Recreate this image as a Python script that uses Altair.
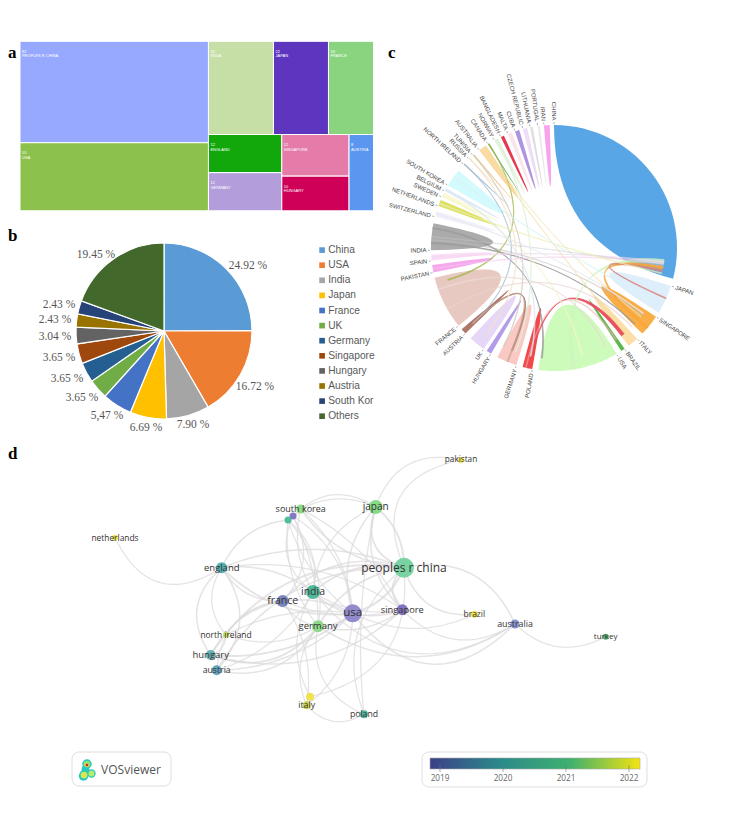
import math
import altair as alt
import pandas as pd

# ---- page geometry of the four panels (screen pixels) ----
PANEL_A = (8, 8, 380, 225)
PANEL_B = (8, 225, 380, 445)
PANEL_C = (380, 8, 739, 445)
PANEL_D = (8, 445, 739, 811)

# ---- a: treemap ----
tree_names = ["PEOPLES R CHINA", "USA", "INDIA", "JAPAN", "FRANCE", "ENGLAND", "GERMANY", "SINGAPORE", "HUNGARY", "AUSTRIA"]
tree_values = [82, 55, 26, 22, 18, 12, 12, 12, 10, 8]
tree_colors = ["#97A8FF", "#8CC14C", "#C5DFA6", "#5E35BE", "#8AD47F", "#12A70B", "#B39DDB", "#E57BA8", "#CE0058", "#5B96F0"]
TREE_BOX = (20, 41.3, 373.5, 210.8)

# ---- b: pie ----
pie_names = ["China", "USA", "India", "Japan", "France", "UK", "Germany", "Singapore", "Hungary", "Austria", "South Korea", "Others"]
pie_values = [24.92, 16.72, 7.90, 6.69, 5.47, 3.65, 3.65, 3.65, 3.04, 2.43, 2.43, 19.45]
pie_labels = ["24.92 %", "16.72 %", "7.90 %", "6.69 %", "5,47 %", "3.65 %", "3.65 %", "3.65 %", "3.04 %", "2.43 %", "2.43 %", "19.45 %"]
pie_label_x = [248, 255, 193, 146, 107, 82, 67, 59, 55, 55, 59, 96]
pie_label_y = [266, 387, 425, 428, 416, 398, 379, 358, 337, 320, 305, 255]
pie_colors = ["#5B9BD5", "#ED7D31", "#A5A5A5", "#FFC000", "#4472C4", "#70AD47", "#255E91", "#9E480E", "#636363", "#997300", "#264478", "#43682B"]

# ---- c: chord diagram, sector start and end angles in degrees clockwise from the top ----
chord_names = ["CHINA", "JAPAN", "SINGAPORE", "ITALY", "BRAZIL", "USA", "POLAND", "GERMANY", "HUNGARY", "UK", "AUSTRIA", "FRANCE",
               "PAKISTAN", "SPAIN", "INDIA", "SWITZERLAND", "NETHERLANDS", "SWEDEN", "BELGIUM", "SOUTH KOREA", "NORTH IRELAND",
               "RUSSIA", "TUNISIA", "AUSTRALIA", "CANADA", "NORWAY", "BANGLADESH", "MALTA", "CUBA", "CZECH REPUBLIC", "LITHUANIA", "PORTUGAL", "IRAN"]
chord_start = [0, 108, 124, 137.5, 145, 149.4, 190.2, 197.8, 210.8, 214.9, 226, 230.8, 258.5, 264, 269, 284.7, 290, 294.4, 297.5, 300.6, 312.7,
               316.3, 318.8, 322.6, 327.5, 331, 334.4, 338, 341.5, 345.3, 348.8, 352.4, 355.3]
chord_end = [104.5, 121.7, 134.1, 142.7, 146.8, 187.3, 194.8, 207.4, 213.2, 222.7, 228.1, 256, 262, 267, 281.6, 287.5, 293, 296.8, 299, 309, 313.4,
             317, 319.6, 326.5, 328.1, 333, 336, 340, 343.6, 347.4, 350, 353.4, 358]
chord_colors = ["#58A6E6", "#DFEEFB", "#F9AE45", "#FCDFA8", "#5DB84A", "#CDFBBB", "#F44848", "#FBC9C4", "#B39DEB", "#E6D6F7", "#B0776B", "#E8C9C2",
                "#F6A8EC", "#FBDFF6", "#ABABAB", "#F1F1FA", "#DDE060", "#FAFAD8", "#DDEAF5", "#D3FAFD", "#A8C0D8",
                "#F7E7CE", "#F5CE9E", "#FCD9A0", "#62B35C", "#E5F5E0", "#E53950", "#FBE3EA", "#AE94E0", "#EDDDF6", "#DEDEDE", "#EAEAEA", "#F8A4EC"]
# links: source angles, target angles, colour, opacity
link_from_a = [272, 273.5, 279, 192, 193, 228, 328, 313, 318.9, 324, 325, 170, 130, 114, 265, 260, 240, 275, 202, 250, 295, 291, 305, 332, 286, 316.5, 298]
link_from_b = [272.6, 274, 279.6, 192.4, 193.4, 228.5, 328.2, 313.2, 319.1, 324.4, 325.4, 171.5, 131, 114.4, 266, 260.4, 240.6, 275.4, 202.5, 250.5, 295.4, 291.4, 305.5, 332.4, 286.4, 316.8, 298.4]
link_to_a = [133, 127, 186, 140.5, 145.5, 202, 253, 227, 207, 140, 128, 96, 99.5, 101.5, 97, 98, 135, 99, 227, 152, 165, 103, 118, 200, 126, 218, 192]
link_to_b = [133.4, 127.4, 186.5, 142.5, 146.3, 202.6, 253.6, 227.3, 207.3, 140.5, 128.5, 98.5, 101, 102.3, 97.6, 98.5, 135.5, 99.4, 227.5, 152.5, 165.4, 103.4, 118.5, 200.4, 126.4, 218.3, 192.4]
link_colors = ["#9E9E9E", "#BDBDBD", "#9E9E9E", "#E84A5A", "#E9B5B0", "#A9705F", "#A3B84C", "#A8C0D0", "#C9C9B8", "#F5DFA0", "#F0E3B0",
               "#CFF5C0", "#F9A63C", "#D98880", "#F3D9F0", "#F3C6EE", "#E8D3CE", "#C4C4C4", "#C5A59A",
               "#EBDAD6", "#F5F5C8", "#EDEFB0", "#D8F5F8", "#DDF2D8", "#E9E9F5", "#F3E4CC", "#DCE8F2"]
link_alpha = [0.95, 0.6, 0.95, 0.95, 0.6, 0.95, 0.85, 0.85, 0.8, 0.8, 0.7, 0.8, 0.95, 0.95, 0.7, 0.6, 0.7, 0.5, 0.8, 0.8, 0.9, 0.8, 0.9, 0.9, 0.9, 0.9, 0.9]
CHORD_CX, CHORD_CY, CHORD_R = 554, 248, 123

# ---- d: network ----
node_names = ["netherlands", "south korea", "", "", "japan", "peoples r china", "england", "india", "france", "usa", "germany", "singapore",
              "north ireland", "hungary", "austria", "", "italy", "poland", "pakistan", "brazil", "australia", "turkey"]
node_keys = ["ne", "sk", "x1", "x2", "ja", "ch", "en", "in", "fr", "us", "ge", "si", "ni", "hu", "au", "x3", "it", "po", "pk", "br", "as", "tu"]
node_x = [115, 300.7, 293, 288, 375.7, 404, 221.7, 313, 282.7, 352.7, 318, 402.3, 226, 210.7, 216.7, 310, 306.7, 364, 461, 474.3, 515, 605.7]
node_y = [536.7, 508, 515, 519, 506, 566.7, 566.7, 591, 600, 612.3, 625.3, 608.7, 633.7, 654, 669.3, 695.7, 704.3, 713.3, 459, 613.3, 623, 635.7]
node_r = [3, 4.5, 3.5, 3.5, 7, 10, 5.5, 7, 6, 9, 6, 5.5, 3, 5, 5, 4, 4, 4, 3, 3.5, 4.5, 3]
node_colors = ["#EFE23E", "#86D97C", "#7B6CC0", "#44B79A", "#7DD87D", "#6FCF9A", "#47A8A8", "#42B392", "#6C7CB8", "#8A82C8", "#84D680", "#7A68BC",
               "#B8DC50", "#5BAAB0", "#5A9CB8", "#F0E040", "#C8D040", "#44B398", "#F0E442", "#EDE040", "#7E8CD0", "#3FA860"]
node_font = [8.4, 9, 8, 8, 10, 12, 9.5, 10.5, 10.5, 11.5, 9.5, 9.3, 8.4, 9.5, 8.7, 8, 8.8, 8.7, 8.2, 8.5, 8.9, 8]
edge_a = ["ne", "pk", "ch", "ch", "ch", "ch", "ch", "as", "us", "si", "in", "sk", "sk", "x1", "x2", "en", "en", "en", "ni",
          "hu", "hu", "au", "au", "it", "it", "it", "it", "x3", "po", "po", "po", "ja", "ja", "ja", "ja", "en", "en", "en", "en",
          "fr", "fr", "fr", "fr", "in", "in", "ge", "ge", "ge", "us", "us", "us", "sk", "x1", "x1", "x2", "x2", "hu", "au", "en", "sk",
          "fr", "au", "in", "ge", "ni", "ni", "ni", "sk", "x2", "x1", "en", "hu", "fr", "x3", "sk", "x1"]
edge_b = ["en", "ja", "pk", "as", "br", "si", "ja", "tu", "as", "as", "as", "ja", "x2", "ja", "ge", "hu", "au", "ni", "hu",
          "us", "ge", "us", "ge", "ge", "us", "fr", "po", "ch", "ge", "ch", "ja", "si", "us", "in", "ch", "ch", "us", "in", "fr",
          "us", "ge", "au", "hu", "us", "ch", "us", "ch", "si", "ch", "si", "br", "us", "in", "fr", "ge", "in", "ch", "in", "x2", "ch",
          "ch", "ch", "si", "as", "us", "ge", "fr", "si", "us", "us", "si", "si", "si", "in", "in", "ge"]
edge_bend = [-0.28, -0.22, 0.3, 0.2, -0.2, -0.25, 0.25, -0.18, -0.28, -0.2, -0.22, 0.12, 0.1, 0.2, -0.1, -0.22, 0.2, -0.18, 0.18,
             -0.1, -0.18, -0.1, -0.18, 0.15, -0.12, -0.1, -0.2, -0.22, 0.2, 0.18, 0.04, -0.15, -0.14, -0.15, 0.12, 0.1, -0.12, 0.1, -0.15,
             0.08, -0.12, -0.2, -0.12, -0.08, 0.12, -0.1, 0.12, -0.12, -0.12, -0.08, -0.12, 0.1, -0.2, 0.18, 0.12, 0.15, 0.16, -0.1, 0.14, -0.12,
             0.16, 0.15, -0.1, -0.16, 0.08, -0.12, 0.12, 0.08, -0.08, 0.12, 0.1, -0.14, -0.08, 0.14, -0.1, 0.06]
edge_w = [1, 1, 1, 1.2, 1.2, 1.5, 1.5, 1, 1.2, 1, 1, 1, 1, 1, 1, 1.2, 1.2, 1, 1, 1.5, 1.5, 1.2, 1.2, 1, 1, 1, 1, 1, 1, 1, 1, 1.2, 1.2, 1, 1.5, 1.2, 1.5, 1.2, 1.2,
          1.2, 1, 1, 1, 1.5, 1.5, 1.5, 1.5, 1.2, 1.8, 1.2, 1, 1, 1, 1, 1, 1, 1.5, 1, 1.2, 1.2,
          1.2, 1.2, 1, 1.2, 1, 1, 1, 1, 1, 1, 1, 1.2, 1, 1, 1, 1]
bar_stops = ["#3C3F88", "#2B8A8A", "#3EB06F", "#F3E40F"]
bar_years = [2019, 2020, 2021, 2022]
bar_tick_x = [440, 503, 566, 629]


def frame(box):
    x0, y0, x1, y1 = box
    return (alt.Scale(domain=[x0, x1], range=[0, x1 - x0]),
            alt.Scale(domain=[y0, y1], range=[0, y1 - y0]),
            x1 - x0, y1 - y0)


def bez(p0, c, p1, n=24):
    out = []
    for i in range(n + 1):
        t = i / n
        out.append(((1 - t) ** 2 * p0[0] + 2 * t * (1 - t) * c[0] + t ** 2 * p1[0],
                    (1 - t) ** 2 * p0[1] + 2 * t * (1 - t) * c[1] + t ** 2 * p1[1]))
    return out


def polar(deg, r):
    a = math.radians(deg)
    return (CHORD_CX + r * math.sin(a), CHORD_CY - r * math.cos(a))


def letter(ch, x, y):
    return alt.Chart(pd.DataFrame({"t": [ch], "x": [x], "y": [y]}))


# ---------- panel a ----------
xa, ya, wa, ha = frame(PANEL_A)
bx0, by0, bx1, by1 = TREE_BOX
total = sum(tree_values)
W, H = bx1 - bx0, by1 - by0
left = tree_values[0] + tree_values[1]
xm = bx0 + W * left / total
rects = {}
ym = by0 + H * tree_values[0] / left
rects[0] = (bx0, xm, by0, ym)
rects[1] = (bx0, xm, ym, by1)
top = sum(tree_values[2:5])
rest = sum(tree_values[5:])
yr = by0 + H * top / (top + rest)
cx = xm
for i in (2, 3, 4):
    nx = cx + (bx1 - xm) * tree_values[i] / top
    rects[i] = (cx, nx, by0, yr)
    cx = nx
cx = xm
for pair in ((5, 6), (7, 8), (9,)):
    s = sum(tree_values[i] for i in pair)
    nx = cx + (bx1 - xm) * s / rest
    cy = yr
    for i in pair:
        ny = cy + (by1 - yr) * tree_values[i] / s
        rects[i] = (cx, nx, cy, ny)
        cy = ny
    cx = nx
tree_df = pd.DataFrame({
    "name": tree_names, "value": [str(v) for v in tree_values], "col": tree_colors,
    "x0": [rects[i][0] for i in range(10)], "x1": [rects[i][1] for i in range(10)],
    "y0": [rects[i][2] for i in range(10)], "y1": [rects[i][3] for i in range(10)]})
tree_df["tx"] = tree_df["x0"] + 2
tree_df["ty1"] = tree_df["y0"] + 10.5
tree_df["ty2"] = tree_df["y0"] + 15
rect_a = alt.Chart(tree_df).mark_rect(stroke="white", strokeWidth=1).encode(
    x=alt.X("x0:Q", scale=xa, axis=None), x2="x1:Q",
    y=alt.Y("y0:Q", scale=ya, axis=None), y2="y1:Q",
    fill=alt.Fill("col:N", scale=None))
t1_a = alt.Chart(tree_df).mark_text(align="left", baseline="middle", fontSize=4, color="white", font="Liberation Sans").encode(
    x=alt.X("tx:Q", scale=xa, axis=None), y=alt.Y("ty1:Q", scale=ya, axis=None), text="value:N")
t2_a = alt.Chart(tree_df).mark_text(align="left", baseline="middle", fontSize=4, color="white", font="Liberation Sans").encode(
    x=alt.X("tx:Q", scale=xa, axis=None), y=alt.Y("ty2:Q", scale=ya, axis=None), text="name:N")
let_style = dict(align="left", baseline="middle", fontSize=17, fontWeight="bold", font="Liberation Serif", color="black")
let_a = letter("a", 8, 53).mark_text(**let_style).encode(
    x=alt.X("x:Q", scale=xa, axis=None), y=alt.Y("y:Q", scale=ya, axis=None), text="t:N")
panel_a = alt.layer(rect_a, t1_a, t2_a, let_a).properties(width=wa, height=ha)

# ---------- panel b ----------
xb, yb, wb, hb = frame(PANEL_B)
pie_df = pd.DataFrame({"name": pie_names, "value": pie_values, "i": range(12), "label": pie_labels, "lx": pie_label_x, "ly": pie_label_y})
arc_b = alt.Chart(pie_df).mark_arc(outerRadius=88, stroke="white", strokeWidth=1.2).encode(
    theta=alt.Theta("value:Q", stack=True),
    order=alt.Order("i:Q"),
    color=alt.Color("name:N", sort=pie_names, scale=alt.Scale(domain=pie_names, range=pie_colors),
                    legend=alt.Legend(orient="none", legendX=309, legendY=237, title=None, symbolType="square", symbolSize=32,
                                      labelFont="Liberation Sans", labelFontSize=10.2, labelColor="#595959", rowPadding=4.1, symbolStrokeWidth=0,
                                      labelOffset=1,
                                      labelExpr="datum.label == 'South Korea' ? 'South Kor' : datum.label")),
    x=alt.value(164 - PANEL_B[0]), y=alt.value(331 - PANEL_B[1]))
txt_b = alt.Chart(pie_df).mark_text(font="Liberation Serif", fontSize=11.5, color="#555555").encode(
    x=alt.X("lx:Q", scale=xb, axis=None), y=alt.Y("ly:Q", scale=yb, axis=None), text="label:N")
let_b = letter("b", 8, 236).mark_text(**let_style).encode(
    x=alt.X("x:Q", scale=xb, axis=None), y=alt.Y("y:Q", scale=yb, axis=None), text="t:N")
panel_b = alt.layer(arc_b, txt_b, let_b).properties(width=wb, height=hb)

# ---------- panel c ----------
xc, yc, wc, hc = frame(PANEL_C)
rows = []
CTR = (CHORD_CX, CHORD_CY)
for k in range(len(chord_names)):
    a0, a1 = chord_start[k], chord_end[k]
    pts = [polar(a0 + (a1 - a0) * j / 30, CHORD_R) for j in range(31)]
    pts += bez(polar(a1, CHORD_R), CTR, polar(a0, CHORD_R))
    for i, (x, y) in enumerate(pts):
        rows.append({"id": f"s{k:02d}", "i": i, "x": x, "y": y, "col": chord_colors[k], "op": 1.0})
sector_df = pd.DataFrame(rows)
rows = []
for k in range(len(link_colors)):
    pts = bez(polar(link_from_a[k], CHORD_R), CTR, polar(link_to_a[k], CHORD_R * 0.9))
    pts += [polar(link_to_b[k], CHORD_R * 0.9)]
    pts += bez(polar(link_to_b[k], CHORD_R * 0.9), CTR, polar(link_from_b[k], CHORD_R))
    for i, (x, y) in enumerate(pts):
        rows.append({"id": f"t{k:02d}", "i": i, "x": x, "y": y, "col": link_colors[k], "op": link_alpha[k]})
link_df = pd.DataFrame(rows)
shape_c = alt.Chart(sector_df).mark_line(filled=True, strokeWidth=0).encode(
    x=alt.X("x:Q", scale=xc, axis=None), y=alt.Y("y:Q", scale=yc, axis=None),
    detail="id:N", order=alt.Order("i:Q"),
    fill=alt.Fill("col:N", scale=None))
link_c = alt.Chart(link_df).mark_line(filled=True, strokeWidth=0.7).encode(
    x=alt.X("x:Q", scale=xc, axis=None), y=alt.Y("y:Q", scale=yc, axis=None),
    detail="id:N", order=alt.Order("i:Q"),
    fill=alt.Fill("col:N", scale=None), stroke=alt.Stroke("col:N", scale=None), opacity=alt.Opacity("op:Q", scale=None))
lab_rows = []
for k, nm in enumerate(chord_names):
    th = chord_start[k]
    x, y = polar(th, CHORD_R + 4.5)
    x0, y0 = polar(th, CHORD_R + 1)
    x1, y1 = polar(th, CHORD_R + 3)
    right = 0 < th < 180
    lab_rows.append({"name": nm, "x": x, "y": y, "x0": x0, "y0": y0, "x1": x1, "y1": y1,
                     "ang": (th - 90) if right else (th - 270), "right": right})
lab_df = pd.DataFrame(lab_rows)
tick_c = alt.Chart(lab_df).mark_rule(color="#777777", strokeWidth=0.6).encode(
    x=alt.X("x0:Q", scale=xc, axis=None), x2="x1:Q",
    y=alt.Y("y0:Q", scale=yc, axis=None), y2="y1:Q")
lab_c_r = alt.Chart(lab_df[lab_df["right"]]).mark_text(align="left", baseline="middle", font="Liberation Sans", fontSize=6, color="#444444").encode(
    x=alt.X("x:Q", scale=xc, axis=None), y=alt.Y("y:Q", scale=yc, axis=None), text="name:N", angle=alt.Angle("ang:Q", scale=None))
lab_c_l = alt.Chart(lab_df[~lab_df["right"]]).mark_text(align="right", baseline="middle", font="Liberation Sans", fontSize=6, color="#444444").encode(
    x=alt.X("x:Q", scale=xc, axis=None), y=alt.Y("y:Q", scale=yc, axis=None), text="name:N", angle=alt.Angle("ang:Q", scale=None))
let_c = letter("c", 388, 53).mark_text(**let_style).encode(
    x=alt.X("x:Q", scale=xc, axis=None), y=alt.Y("y:Q", scale=yc, axis=None), text="t:N")
panel_c = alt.layer(shape_c, link_c, tick_c, lab_c_r, lab_c_l, let_c).properties(width=wc, height=hc)

# ---------- panel d ----------
xd, yd, wd, hd = frame(PANEL_D)
pos = {k: (node_x[i], node_y[i]) for i, k in enumerate(node_keys)}
rows = []
for e, (a, b, c, w) in enumerate(zip(edge_a, edge_b, edge_bend, edge_w)):
    p0, p1 = pos[a], pos[b]
    mx, my = (p0[0] + p1[0]) / 2, (p0[1] + p1[1]) / 2
    dx, dy = p1[0] - p0[0], p1[1] - p0[1]
    ctrl = (mx + c * dy * 2, my - c * dx * 2)
    for i, (x, y) in enumerate(bez(p0, ctrl, p1)):
        rows.append({"id": f"e{e:02d}", "i": i, "x": x, "y": y, "w": w * 1.25})
edge_df = pd.DataFrame(rows)
edge_d = alt.Chart(edge_df).mark_line(color="#DCDADC", opacity=0.75).encode(
    x=alt.X("x:Q", scale=xd, axis=None), y=alt.Y("y:Q", scale=yd, axis=None),
    detail="id:N", order=alt.Order("i:Q"), strokeWidth=alt.StrokeWidth("w:Q", scale=None))
node_df = pd.DataFrame({"name": node_names, "x": node_x, "y": node_y, "size": [4 * r * r for r in node_r], "col": node_colors, "fs": node_font})
node_d = alt.Chart(node_df).mark_circle(opacity=0.92).encode(
    x=alt.X("x:Q", scale=xd, axis=None), y=alt.Y("y:Q", scale=yd, axis=None),
    size=alt.Size("size:Q", scale=None), fill=alt.Fill("col:N", scale=None))
name_d = alt.Chart(node_df[node_df["name"] != ""]).mark_text(font="Open Sans", color="#333333", baseline="middle").encode(
    x=alt.X("x:Q", scale=xd, axis=None), y=alt.Y("y:Q", scale=yd, axis=None),
    text="name:N", size=alt.Size("fs:Q", scale=None))
let_d = letter("d", 8, 453).mark_text(**let_style).encode(
    x=alt.X("x:Q", scale=xd, axis=None), y=alt.Y("y:Q", scale=yd, axis=None), text="t:N")
box_df = pd.DataFrame({"x0": [72, 422], "x1": [171, 647], "y0": [751, 751], "y1": [785, 786]})
box_d = alt.Chart(box_df).mark_rect(fill="white", stroke="#DEDEDE", strokeWidth=1, cornerRadius=7).encode(
    x=alt.X("x0:Q", scale=xd, axis=None), x2="x1:Q", y=alt.Y("y0:Q", scale=yd, axis=None), y2="y1:Q")
grad = alt.Gradient(gradient="linear", x1=0, x2=1, y1=0, y2=0,
                    stops=[alt.GradientStop(offset=i / 3, color=c) for i, c in enumerate(bar_stops)])
bar_d = alt.Chart(pd.DataFrame({"x0": [430], "x1": [640], "y0": [757], "y1": [768]})).mark_rect(fill=grad, stroke="#A8A8A8", strokeWidth=0.6).encode(
    x=alt.X("x0:Q", scale=xd, axis=None), x2="x1:Q", y=alt.Y("y0:Q", scale=yd, axis=None), y2="y1:Q")
tk_df = pd.DataFrame({"x": bar_tick_x, "year": [str(v) for v in bar_years], "y0": [764] * 4, "y1": [771] * 4, "ty": [778] * 4})
tk_d = alt.Chart(tk_df).mark_rule(color="#777777", strokeWidth=0.6).encode(
    x=alt.X("x:Q", scale=xd, axis=None), y=alt.Y("y0:Q", scale=yd, axis=None), y2="y1:Q")
tl_d = alt.Chart(tk_df).mark_text(font="Open Sans", fontSize=8.2, color="#666666", baseline="middle").encode(
    x=alt.X("x:Q", scale=xd, axis=None), y=alt.Y("ty:Q", scale=yd, axis=None), text="year:N")
logo_df = pd.DataFrame({"x": [87, 85.5, 84, 83.5, 91.5, 87, 84, 91.5, 87, 87],
                        "y": [763, 768, 773, 775, 772.5, 763, 774, 772.5, 764, 764],
                        "size": [90, 60, 70, 90, 70, 45, 45, 35, 18, 7],
                        "col": ["#27C8C0", "#27C8C0", "#27C8C0", "#27C8C0", "#27C8C0", "#8FE27A", "#D9E84F", "#B9EC6C", "#F3C63A", "#D3281F"],
                        "i": range(10)})
logo_d = alt.Chart(logo_df).mark_circle(opacity=1).encode(
    x=alt.X("x:Q", scale=xd, axis=None), y=alt.Y("y:Q", scale=yd, axis=None),
    size=alt.Size("size:Q", scale=None), fill=alt.Fill("col:N", scale=None), order=alt.Order("i:Q"))
vos_d = alt.Chart(pd.DataFrame({"t": ["VOSviewer"], "x": [131], "y": [769]})).mark_text(font="Open Sans", fontSize=12, color="#555555", baseline="middle").encode(
    x=alt.X("x:Q", scale=xd, axis=None), y=alt.Y("y:Q", scale=yd, axis=None), text="t:N")
panel_d = alt.layer(edge_d, node_d, name_d, let_d, box_d, bar_d, tk_d, tl_d, logo_d, vos_d).properties(width=wd, height=hd)

left_col = alt.vconcat(panel_a, panel_b, spacing=0)
top_row = alt.hconcat(left_col, panel_c, spacing=0)
chart = alt.vconcat(top_row, panel_d, spacing=0).properties(padding=0).configure_view(stroke=None).configure_concat(spacing=0).resolve_scale(x="independent", y="independent", color="independent")

chart.save("out.html", embed_options={"renderer": "svg", "actions": False})
